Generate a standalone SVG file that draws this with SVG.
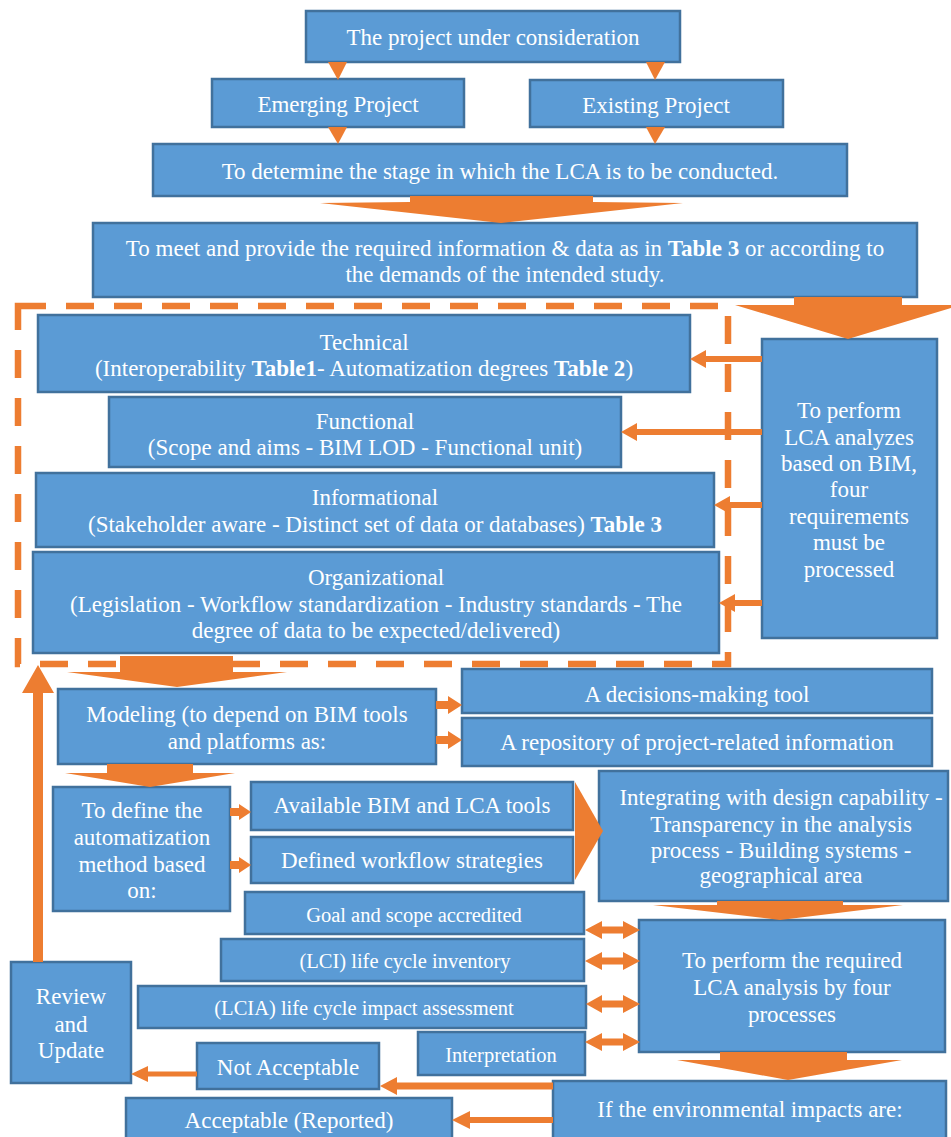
<svg xmlns="http://www.w3.org/2000/svg" width="951" height="1137" viewBox="0 0 951 1137">
<style>
.box{fill:#5b9bd5;stroke:#41719c;stroke-width:2.5}
.t{font-family:"Liberation Serif","Times New Roman",serif;font-size:23px;fill:#ffffff;text-anchor:middle}
.s{font-size:20.5px}
.b{font-weight:bold}
.o{fill:#ed7d31;stroke:none}
.dash{fill:none;stroke:#ed7d31;stroke-width:6.5;stroke-dasharray:28 20}
</style>
<rect width="951" height="1137" fill="#ffffff"/>
<g id="frame">
<rect class="dash" x="18" y="306" width="710" height="358"/>
</g>
<g id="n-project"><rect class="box" x="306" y="11" width="374" height="51"/><text class="t" x="493" y="45">The project under consideration</text></g>
<g id="n-emerging"><rect class="box" x="212" y="79" width="252" height="48"/><text class="t" x="338" y="112">Emerging Project</text></g>
<g id="n-existing"><rect class="box" x="530" y="80" width="253" height="47"/><text class="t" x="656" y="113">Existing Project</text></g>
<g id="n-determine"><rect class="box" x="153" y="144" width="694" height="52"/><text class="t" x="500" y="179">To determine the stage in which the LCA is to be conducted.</text></g>
<g id="n-meet"><rect class="box" x="93" y="223" width="824" height="74"/><text class="t" x="505" y="256">To meet and provide the required information &amp; data as in <tspan class="b">Table 3</tspan> or according to</text><text class="t" x="505" y="282">the demands of the intended study.</text></g>
<g id="n-technical"><rect class="box" x="38" y="315" width="652" height="77"/><text class="t" x="364" y="350">Technical</text><text class="t" x="364" y="376">(Interoperability <tspan class="b">Table1</tspan>- Automatization degrees <tspan class="b">Table 2</tspan>)</text></g>
<g id="n-functional"><rect class="box" x="109" y="397" width="512" height="70"/><text class="t" x="365" y="429">Functional</text><text class="t" x="365" y="455">(Scope and aims - BIM LOD - Functional unit)</text></g>
<g id="n-informational"><rect class="box" x="36" y="473" width="678" height="74"/><text class="t" x="375" y="505">Informational</text><text class="t" x="375" y="532">(Stakeholder aware - Distinct set of data or databases) <tspan class="b">Table 3</tspan></text></g>
<g id="n-organizational"><rect class="box" x="33" y="552" width="686" height="101"/><text class="t" x="376" y="585">Organizational</text><text class="t" x="376" y="612">(Legislation - Workflow standardization - Industry standards - The</text><text class="t" x="376" y="638">degree of data to be expected/delivered)</text></g>
<g id="n-perform"><rect class="box" x="762" y="339" width="175" height="299"/><text class="t" x="849" y="418">To perform</text><text class="t" x="849" y="445">LCA analyzes</text><text class="t" x="849" y="471">based on BIM,</text><text class="t" x="849" y="497">four</text><text class="t" x="849" y="524">requirements</text><text class="t" x="849" y="550">must be</text><text class="t" x="849" y="577">processed</text></g>
<g id="n-modeling"><rect class="box" x="58" y="689" width="378" height="75"/><text class="t" x="247" y="722">Modeling (to depend on BIM tools</text><text class="t" x="247" y="749">and platforms as:</text></g>
<g id="n-decision"><rect class="box" x="462" y="669" width="470" height="44"/><text class="t" x="697" y="702">A decisions-making tool</text></g>
<g id="n-repository"><rect class="box" x="462" y="718" width="470" height="48"/><text class="t" x="697" y="750">A repository of project-related information</text></g>
<g id="n-define"><rect class="box" x="53" y="787" width="177" height="124"/><text class="t" x="142" y="818">To define the</text><text class="t" x="142" y="845">automatization</text><text class="t" x="142" y="872">method based</text><text class="t" x="142" y="898">on:</text></g>
<g id="n-available"><rect class="box" x="251" y="782" width="322" height="48"/><text class="t" x="412" y="813">Available BIM and LCA tools</text></g>
<g id="n-defined"><rect class="box" x="251" y="837" width="322" height="46"/><text class="t" x="412" y="868">Defined workflow strategies</text></g>
<g id="n-integrating"><rect class="box" x="599" y="771" width="349" height="130"/><text class="t" x="781" y="805">Integrating with design capability -</text><text class="t" x="781" y="832">Transparency in the analysis</text><text class="t" x="781" y="858">process - Building systems -</text><text class="t" x="781" y="883">geographical area</text></g>
<g id="n-goal"><rect class="box" x="245" y="892" width="339" height="42"/><text class="t s" x="414" y="922">Goal and scope accredited</text></g>
<g id="n-lci"><rect class="box" x="221" y="939" width="363" height="42"/><text class="t s" x="405" y="968">(LCI) life cycle inventory</text></g>
<g id="n-lcia"><rect class="box" x="138" y="986" width="448" height="42"/><text class="t s" x="364" y="1015">(LCIA) life cycle impact assessment</text></g>
<g id="n-interp"><rect class="box" x="418" y="1032" width="167" height="43"/><text class="t s" x="501" y="1062">Interpretation</text></g>
<g id="n-performreq"><rect class="box" x="639" y="920" width="306" height="132"/><text class="t" x="792" y="968">To perform the required</text><text class="t" x="792" y="995">LCA analysis by four</text><text class="t" x="792" y="1022">processes</text></g>
<g id="n-review"><rect class="box" x="11" y="962" width="120" height="121"/><text class="t" x="71" y="1004">Review</text><text class="t" x="71" y="1032">and</text><text class="t" x="71" y="1058">Update</text></g>
<g id="n-notacc"><rect class="box" x="197" y="1043" width="182" height="46"/><text class="t" x="288" y="1075">Not Acceptable</text></g>
<g id="n-acc"><rect class="box" x="126" y="1098" width="326" height="45"/><text class="t" x="289" y="1128">Acceptable (Reported)</text></g>
<g id="n-if"><rect class="box" x="553" y="1081" width="393" height="62"/><text class="t" x="750" y="1117">If the environmental impacts are:</text></g>
<g id="connectors">
<polygon class="o" points="328,62 347,62 338,80"/>
<polygon class="o" points="646,62 665,62 655,80"/>
<polygon class="o" points="328,127 347,127 338,144"/>
<polygon class="o" points="646,127 665,127 655,144"/>
<polygon class="o" points="410,196 593,196 593,202 683,203 501,223 320,203 410,202"/>
<polygon class="o" points="794,297 902,297 902,305 961,305 848,339 735,305 794,305"/>
<polygon class="o" points="762,356 706,356 706,350 690,359 706,368 706,362 762,362"/>
<polygon class="o" points="762,429 637,429 637,423 621,432 637,441 637,435 762,435"/>
<polygon class="o" points="762,502 730,502 730,496 714,505 730,514 730,508 762,508"/>
<polygon class="o" points="762,600 735,600 735,594 719,603 735,612 735,606 762,606"/>
<polygon class="o" points="120,656 233,656 233,672 287,672 177,687 67,672 120,672"/>
<polygon class="o" points="436,701 448,701 448,696 462,705 448,714 448,709 436,709"/>
<polygon class="o" points="436,736 448,736 448,731 462,740 448,749 448,744 436,744"/>
<polygon class="o" points="107,764 193,764 193,773 235,773 150,787 65,773 107,773"/>
<polygon class="o" points="230,808 239,808 239,804 251,812 239,820 239,816 230,816"/>
<polygon class="o" points="230,861 239,861 239,857 251,865 239,873 239,869 230,869"/>
<polygon class="o" points="575,782 603,831 575,880"/>
<polygon class="o" points="717,901 843,901 843,905 903,905 780,920 653,905 717,905"/>
<polygon class="o" points="585,930 602,921 602,926.5 623,926.5 623,921 640,930 623,939 623,933.5 602,933.5 602,939"/>
<polygon class="o" points="585,961 602,952 602,957.5 623,957.5 623,952 640,961 623,970 623,964.5 602,964.5 602,970"/>
<polygon class="o" points="586,1004 602,995 602,1000.5 623,1000.5 623,995 640,1004 623,1013 623,1007.5 602,1007.5 602,1013"/>
<polygon class="o" points="585,1042 602,1033 602,1038.5 623,1038.5 623,1033 640,1042 623,1051 623,1045.5 602,1045.5 602,1051"/>
<polygon class="o" points="720,1052 847,1052 847,1060 902,1060 788,1080 677,1060 720,1060"/>
<polygon class="o" points="553,1082.5 397,1082.5 397,1077 380,1086 397,1095 397,1089.5 553,1089.5"/>
<polygon class="o" points="553,1117 470,1117 470,1111 452,1120 470,1129 470,1123 553,1123"/>
<polygon class="o" points="197,1071.5 148,1071.5 148,1066 131,1074 148,1082 148,1076.5 197,1076.5"/>
<polygon class="o" points="33,962 33,693 22,693 38,665 54,693 43,693 43,962"/>
</g>
</svg>
